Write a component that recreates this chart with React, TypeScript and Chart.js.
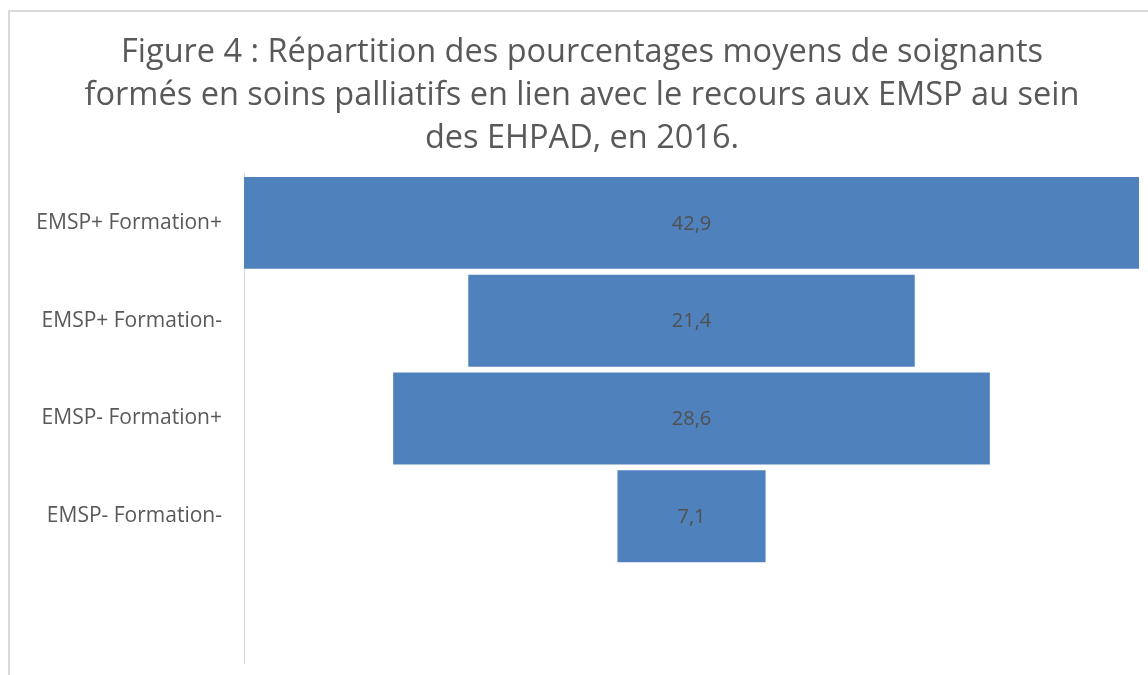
import React, { useEffect, useRef } from "react";
import { Chart, registerables } from "chart.js";

Chart.register(...registerables);

const categories = [
  "EMSP+ Formation+",
  "EMSP+ Formation-",
  "EMSP- Formation+",
  "EMSP- Formation-",
  "",
];
const values: (number | null)[] = [42.9, 21.4, 28.6, 7.1, null];
const titleLines = [
  "Figure 4 : Répartition des pourcentages moyens de soignants",
  "formés en soins palliatifs en lien avec le recours aux EMSP au sein",
  "des EHPAD, en 2016.",
];

const FONT = '"Open Sans", Lato, sans-serif';

const centerLabels = {
  id: "centerLabels",
  afterDatasetsDraw(chart: any) {
    const meta = chart.getDatasetMeta(0);
    const ctx = chart.ctx;
    ctx.save();
    ctx.font = `20px ${FONT}`;
    ctx.fillStyle = "#505050";
    ctx.textAlign = "center";
    ctx.textBaseline = "middle";
    meta.data.forEach((el: any, i: number) => {
      const v = values[i];
      if (v == null) return;
      const { x, y, base } = el.getProps(["x", "y", "base"], true);
      ctx.fillText(v.toFixed(1).replace(".", ","), (x + base) / 2, y + 1);
    });
    ctx.restore();
  },
};

export default function App() {
  const ref = useRef<HTMLCanvasElement | null>(null);
  useEffect(() => {
    if (!ref.current) return;
    const maxV = Math.max(...(values.filter((v) => v != null) as number[]));
    const chart = new Chart(ref.current, {
      type: "bar",
      data: {
        labels: categories,
        datasets: [
          {
            data: values.map((v) => (v == null ? null : [-v / 2, v / 2])) as any,
            backgroundColor: "#4F81BD",
            borderWidth: 0,
            barPercentage: 0.94,
            categoryPercentage: 1,
          },
        ],
      },
      options: {
        indexAxis: "y",
        responsive: false,
        animation: false,
        devicePixelRatio: 1,
        layout: { padding: { left: 25, right: 9, top: 0, bottom: 12 } },
        plugins: {
          legend: { display: false },
          tooltip: { enabled: false },
          title: {
            display: true,
            text: titleLines,
            color: "#595959",
            font: { family: FONT, size: 32.5, weight: "normal", lineHeight: 1.323 },
            padding: { top: 31, bottom: 14 },
          },
        },
        scales: {
          x: {
            display: false,
            min: -maxV / 2,
            max: maxV / 2,
          },
          y: {
            type: "category",
            grid: { display: false, drawTicks: false },
            border: { display: true, color: "#D9D9D9", width: 1 },
            ticks: {
              color: "#595959",
              font: { family: FONT, size: 21 },
              padding: 22,
            },
            afterFit(scale: any) {
              scale.width = 219;
              scale.paddingTop = 0;
              scale.paddingBottom = 0;
            },
          },
        },
      },
      plugins: [centerLabels],
    });
    return () => chart.destroy();
  }, []);

  return (
    <>
      <div
        style={{
          position: "absolute",
          left: 8,
          top: 10,
          right: 0,
          bottom: 0,
          borderLeft: "2px solid #D9D9D9",
          borderTop: "2px solid #D9D9D9",
          background: "#fff",
        }}
      />
      <canvas
        ref={ref}
        width={1148}
        height={675}
        style={{ position: "absolute", left: 0, top: 0, width: 1148, height: 675, display: "block" }}
      />
    </>
  );
}
